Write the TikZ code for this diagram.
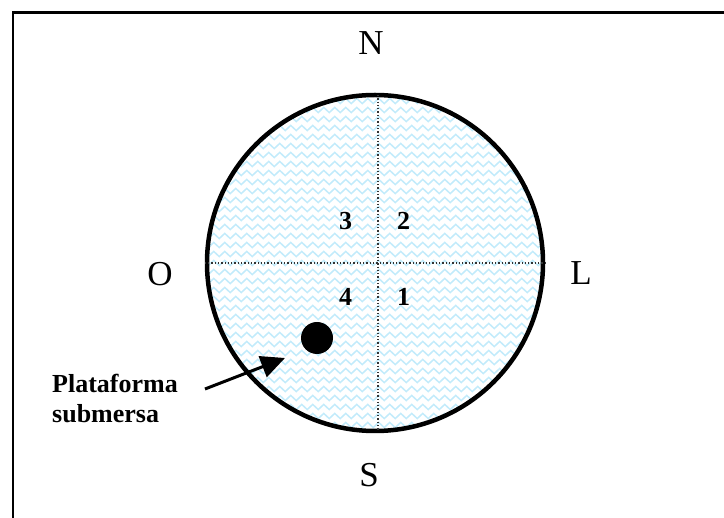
\documentclass[tikz,border=0pt]{standalone}
\usepackage{fontspec}
\setmainfont{Liberation Serif}
\usetikzlibrary{arrows.meta,decorations.pathmorphing}
\begin{document}
\begin{tikzpicture}[x=1pt,y=-1pt,
  dir/.style={font=\fontsize{35}{40}\selectfont, inner sep=0pt, anchor=base},
  quad/.style={font=\fontsize{26}{28}\bfseries\selectfont, inner sep=0pt, anchor=base},
  wave/.style={draw=cyan!24, line width=1.5pt, decorate, decoration={zigzag, segment length=11pt, amplitude=2.6pt}},
  divider/.style={dotted, line width=1.3pt, black!80},
  pointer/.style={line width=3pt, -{Triangle[length=24pt,width=22pt]}}]
\useasboundingbox (0,0) rectangle (724,518);
\begin{scope}
\clip (0,0) rectangle (724,518);
\draw[line width=2.2pt] (13,540) -- (13,12.5) -- (750,12.5);
\end{scope}
% water pattern
\begin{scope}
\clip (375,263) circle (168);
\foreach \yy in {92,101,...,440} {\draw[wave] (200,\yy) -- (560,\yy);}
\end{scope}
\node[circle, draw, line width=4.5pt, minimum size=336pt, inner sep=0pt] (pool) at (375,263) {};
\draw[divider] (378,95) -- (378,431);
\draw[divider] (pool.west) -- (pool.east);
\node[dir] (n) at (371,55) {N};
\node[dir] (o) at (160,286) {O};
\node[dir] (l) at (581,285) {L};
\node[dir] (s) at (369,487) {S};
\node[quad] (q3) at (345.5,230) {3};
\node[quad] (q2) at (403.5,230) {2};
\node[quad] (q4) at (345.5,306) {4};
\node[quad] (q1) at (403.5,306) {1};
\node[circle, fill=black, minimum size=32pt, inner sep=0pt] (plat) at (317,338) {};
\node[anchor=base west, align=left, inner sep=0pt, font=\fontsize{26}{30}\bfseries\selectfont] (lab) at (52,423) {Plataforma\\submersa};
\coordinate (astart) at (205,389);
\coordinate (atip) at (285,358);
\draw[pointer] (astart) -- (atip);
\end{tikzpicture}
\end{document}
